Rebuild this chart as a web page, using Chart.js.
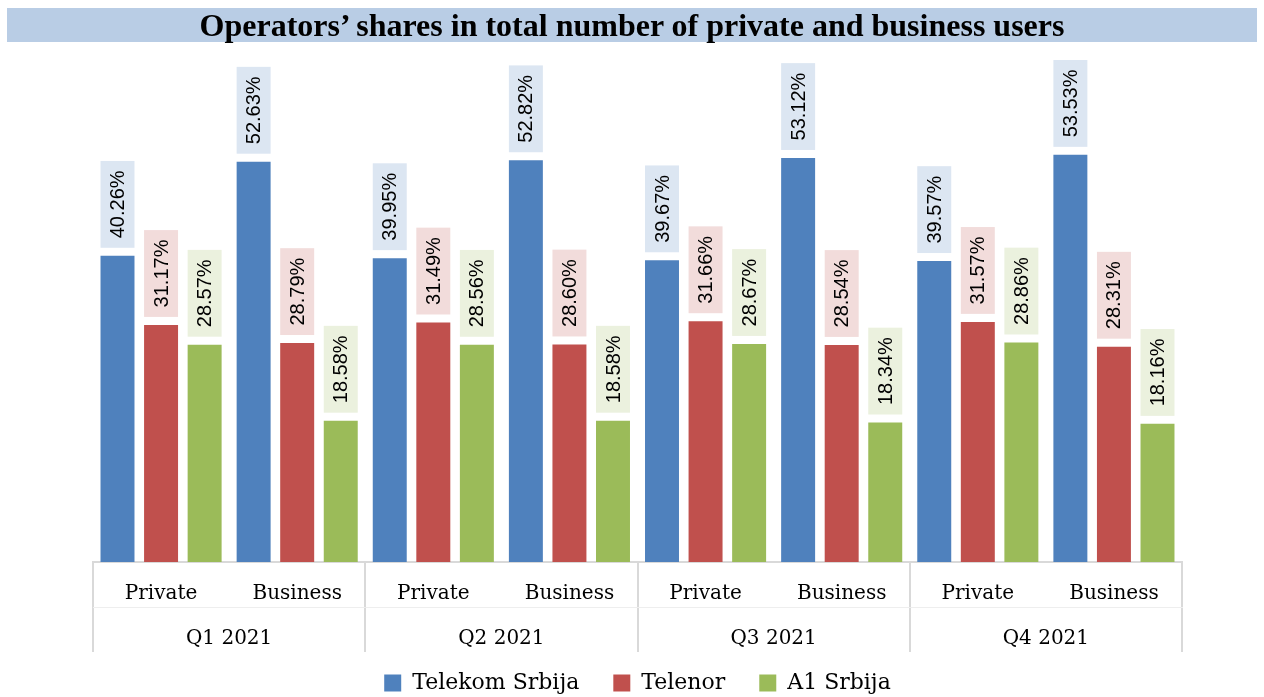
<!DOCTYPE html>
<html>
<head>
<meta charset="utf-8">
<script src="https://cdn.jsdelivr.net/npm/chart.js@4"></script>
<style>
body { margin: 0; background: #fff; }
#wrap { position: relative; width: 1264px; height: 697px; overflow: hidden; }
#bar-chart { position: absolute; left: 0; top: 0; }
#title {
    position: absolute; left: 7px; top: 8px; width: 1250px; height: 34px;
    background: #b9cde5; color: #000; text-align: center;
    font: bold 32px "Liberation Serif"; line-height: 35px;
}
</style>
</head>
<body>
<div id="wrap">
    <canvas id="bar-chart" width="1264" height="697"></canvas>
    <div id="title">Operators’ shares in total number of private and business users</div>
</div>
<script>
var quarters = ["Q1 2021", "Q2 2021", "Q3 2021", "Q4 2021"];
var userTypes = ["Private", "Business"];
var telekom = [40.26, 52.63, 39.95, 52.82, 39.67, 53.12, 39.57, 53.53];
var telenor = [31.17, 28.79, 31.49, 28.60, 31.66, 28.54, 31.57, 28.31];
var a1 = [28.57, 18.58, 28.56, 18.58, 28.67, 18.34, 28.86, 18.16];

var labels = [];
quarters.forEach(function () {
    labels.push(userTypes[0], userTypes[1]);
});

// rotated value labels in a light box above each bar
var valueBoxes = {
    id: 'valueBoxes',
    afterDatasetsDraw: function (chart) {
        var c = chart.ctx;
        chart.data.datasets.forEach(function (ds, i) {
            var meta = chart.getDatasetMeta(i);
            meta.data.forEach(function (bar, j) {
                var txt = ds.data[j].toFixed(2) + '%';
                c.save();
                c.font = '20px "Liberation Sans"';
                var w = c.measureText(txt).width;
                var boxH = w + 19;
                var boxW = bar.width;
                var bottom = bar.y - 8;
                c.fillStyle = ds.labelBg;
                c.fillRect(bar.x - boxW / 2, bottom - boxH, boxW, boxH);
                c.translate(bar.x, bottom - boxH / 2);
                c.rotate(-Math.PI / 2);
                c.fillStyle = '#000';
                c.textAlign = 'center';
                c.textBaseline = 'middle';
                c.fillText(txt, 0, 1);
                c.restore();
            });
        });
    }
};

var ctx = document.getElementById("bar-chart");

var chart = new Chart(ctx, {
    type: 'bar',
    data: {
        labels: labels,
        datasets: [
            { label: "Telekom Srbija", data: telekom, backgroundColor: "#4f81bd", labelBg: "#dce6f2" },
            { label: "Telenor", data: telenor, backgroundColor: "#c0504d", labelBg: "#f2dcdb" },
            { label: "A1 Srbija", data: a1, backgroundColor: "#9bbb59", labelBg: "#ebf1de" }
        ]
    },
    options: {
        responsive: false,
        devicePixelRatio: 1,
        animation: false,
        categoryPercentage: 0.96,
        barPercentage: 0.78,
        layout: { padding: { top: 60, left: 93, right: 82, bottom: -7 } },
        scales: {
            y: { display: false, min: 0, max: 66 },
            x: {
                offset: true,
                weight: 0,
                grid: {
                    offset: true,
                    drawOnChartArea: false,
                    tickLength: 90,
                    lineWidth: 2,
                    color: function (c) {
                        return (c.index === undefined || c.index % 2 === 0) ? '#d9d9d9' : 'rgba(0,0,0,0)';
                    }
                },
                border: { color: '#d9d9d9', width: 2 },
                ticks: {
                    padding: -70,
                    color: '#000',
                    maxRotation: 0,
                    autoSkip: false,
                    font: { family: 'DejaVu Serif', size: 20 }
                },
                afterFit: function (s) { s.height = 45; }
            },
            x2: {
                type: 'category',
                labels: quarters,
                position: 'bottom',
                offset: true,
                weight: 1,
                grid: { display: false },
                border: { display: true, color: '#eeeeee', width: 1 },
                ticks: {
                    padding: 12,
                    color: '#000',
                    maxRotation: 0,
                    font: { family: 'DejaVu Serif', size: 20 }
                },
                afterFit: function (s) { s.height = 45; }
            }
        },
        plugins: {
            legend: {
                position: 'bottom',
                labels: {
                    color: '#000',
                    boxWidth: 17,
                    boxHeight: 17,
                    padding: 20,
                    font: { family: 'DejaVu Serif', size: 22 },
                    generateLabels: function (chart) {
                        var items = Chart.defaults.plugins.legend.labels.generateLabels(chart);
                        items.forEach(function (it, i) {
                            if (i < items.length - 1) it.text += '\u00a0\u00a0';
                        });
                        return items;
                    }
                }
            },
            tooltip: { enabled: false }
        }
    },
    plugins: [valueBoxes]
});
</script>
</body>
</html>
